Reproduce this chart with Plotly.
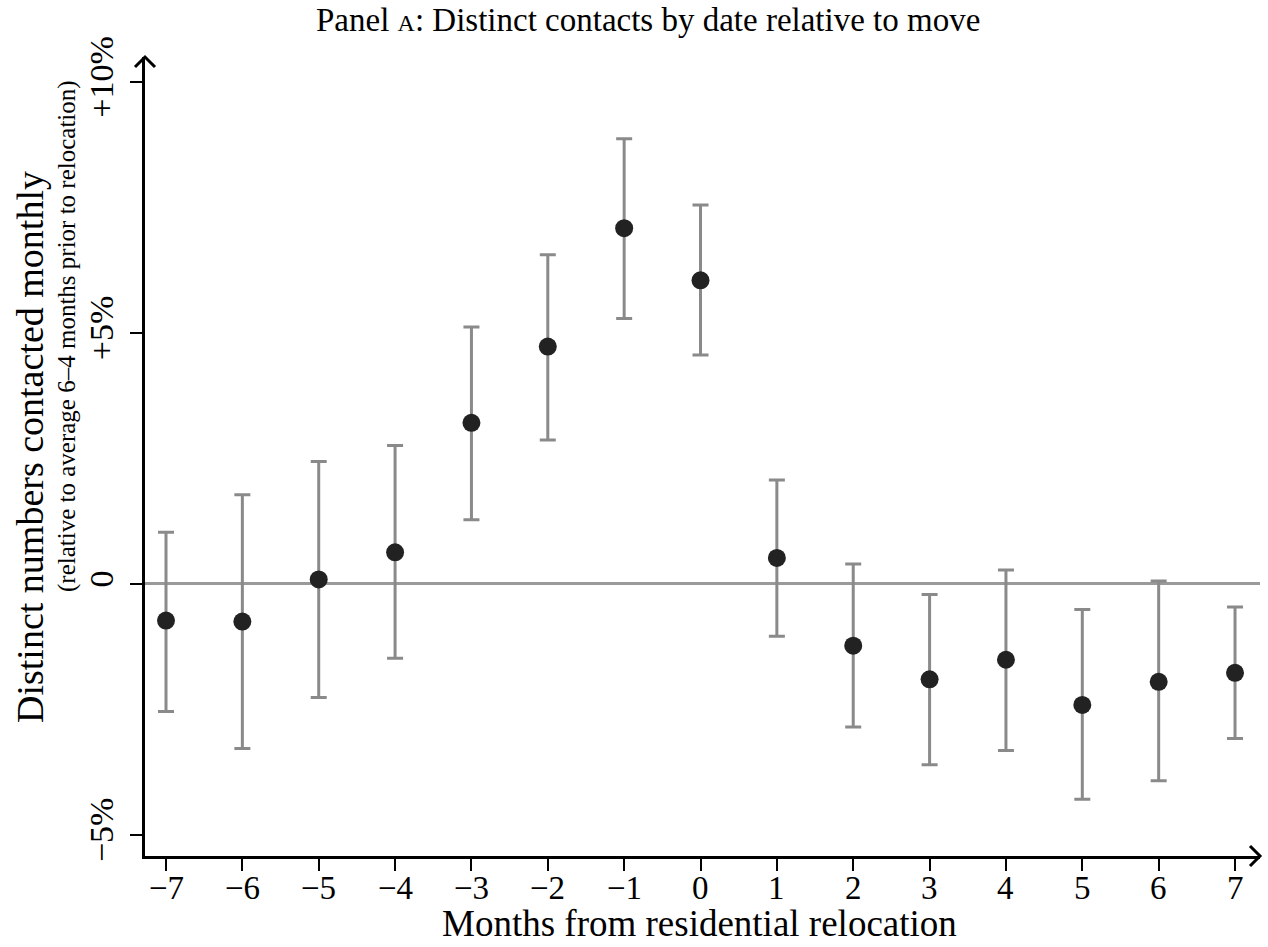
import plotly.graph_objects as go

months = [-7, -6, -5, -4, -3, -2, -1, 0, 1, 2, 3, 4, 5, 6, 7]
estimate = [-0.73, -0.75, 0.09, 0.63, 3.21, 4.73, 7.09, 6.05, 0.52, -1.23, -1.90, -1.51, -2.41, -1.95, -1.77]
ci_upper = [1.03, 1.78, 2.44, 2.76, 5.12, 6.56, 8.87, 7.55, 2.07, 0.40, -0.21, 0.28, -0.51, 0.06, -0.46]
ci_lower = [-2.54, -3.28, -2.26, -1.48, 1.28, 2.87, 5.29, 4.56, -1.04, -2.85, -3.60, -3.32, -4.29, -3.92, -3.08]

x_tickvals = months
x_ticktext = [("\u2212" + str(-m)) if m < 0 else str(m) for m in months]
y_tickvals = [-5, 0, 5, 10]
y_ticktext = ["\u22125%", "0", "+5%", "+10%"]

title_text = "Panel <span style='font-size:24px'>A</span>: Distinct contacts by date relative to move"
x_title = "Months from residential relocation"
y_title = "Distinct numbers contacted monthly"
y_subtitle = "(relative to average 6\u20134 months prior to relocation)"

FONT = "Liberation Serif"
XR = [-7.275, 7.327]
YR = [-5.42, 10.50]

err_plus = [u - e for u, e in zip(ci_upper, estimate)]
err_minus = [e - l for e, l in zip(estimate, ci_lower)]

fig = go.Figure()
fig.add_trace(go.Scatter(
    x=months, y=estimate, mode="markers",
    marker=dict(size=18, color="#222222"),
    error_y=dict(type="data", array=err_plus, arrayminus=err_minus,
                 color="#8a8a8a", thickness=3, width=8),
    cliponaxis=False, showlegend=False, hoverinfo="x+y",
))

fig.update_layout(
    width=1268, height=947,
    margin=dict(l=145, r=8, t=57, b=91),
    paper_bgcolor="white", plot_bgcolor="white",
    font=dict(family=FONT, color="black"),
    xaxis=dict(range=XR, tickvals=x_tickvals, showticklabels=False,
               showgrid=False, zeroline=False, showline=True, linecolor="black",
               linewidth=3, ticks="outside", ticklen=12, tickwidth=2, tickcolor="black"),
    yaxis=dict(range=YR, tickvals=y_tickvals, ticktext=y_ticktext, tickangle=-90,
               ticklabelstandoff=3,
               showgrid=False, zeroline=True, zerolinecolor="#9a9a9a", zerolinewidth=2.5,
               showline=True, linecolor="black", linewidth=3,
               ticks="outside", ticklen=12, tickwidth=2, tickcolor="black",
               tickfont=dict(size=34, family=FONT)),
)

# Arrowheads at axis ends (pixel-sized shapes anchored to the axis ends, not clipped)
fig.add_shape(type="path", xref="paper", yref="paper", xsizemode="pixel", ysizemode="pixel",
              xanchor=1, yanchor=0, path="M-10,10 L0,0 L-10,-10",
              line=dict(color="black", width=3))
fig.add_shape(type="path", xref="paper", yref="paper", xsizemode="pixel", ysizemode="pixel",
              xanchor=0, yanchor=1, path="M-10,-10 L0,0 L10,-10",
              line=dict(color="black", width=3))

def px_x(p):
    return (p - 145) / 1115.0

def px_y(p):
    return (856 - p) / 799.0

# x tick labels placed on the x scale
for v, t in zip(x_tickvals, x_ticktext):
    fig.add_annotation(text=t, xref="x", yref="paper", x=v, y=px_y(888),
                       xanchor="center", yanchor="middle", showarrow=False,
                       font=dict(size=33, family=FONT))

fig.add_annotation(text=title_text, xref="paper", yref="paper", x=px_x(648), y=px_y(20),
                   xanchor="center", yanchor="middle", showarrow=False,
                   font=dict(size=33, family=FONT))
fig.add_annotation(text=x_title, xref="paper", yref="paper", x=px_x(699), y=px_y(923),
                   xanchor="center", yanchor="middle", showarrow=False,
                   font=dict(size=37, family=FONT))
fig.add_annotation(text=y_title, xref="paper", yref="paper", x=px_x(30), y=px_y(447),
                   xanchor="center", yanchor="middle", showarrow=False, textangle=-90,
                   font=dict(size=38, family=FONT))
fig.add_annotation(text=y_subtitle, xref="paper", yref="paper", x=px_x(67), y=px_y(336),
                   xanchor="center", yanchor="middle", showarrow=False, textangle=-90,
                   font=dict(size=25, family=FONT))

fig.write_html("out.html", config={"displayModeBar": False},
               post_script="document.body.style.margin='0';")
